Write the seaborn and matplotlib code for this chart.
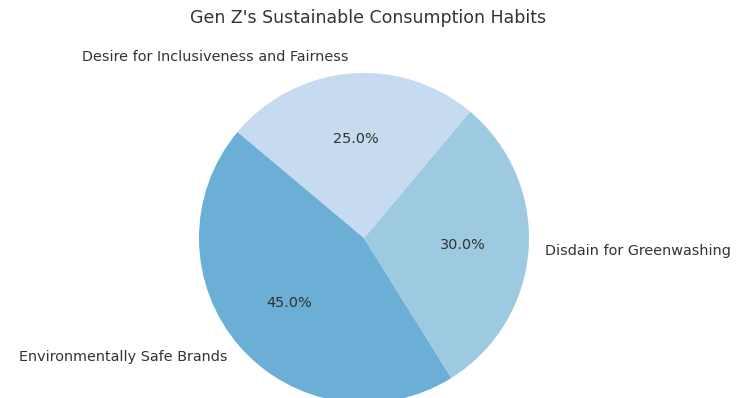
import matplotlib
matplotlib.use("Agg")
import matplotlib.pyplot as plt
import seaborn as sns

# data
labels = ['Environmentally Safe Brands', 'Disdain for Greenwashing', 'Desire for Inclusiveness and Fairness']
shares = [45, 30, 25]
colors = ['#6baed6', '#9ecae1', '#c6dbef']

sns.set_theme(style='white')
plt.rcParams['font.family'] = ['DejaVu Sans']

fig = plt.figure(figsize=(7.36, 3.98), dpi=100)
# pie centre ~ (364, 238) px, radius ~165 px
ax = fig.add_axes([199 / 736, -5 / 398, 330 / 736, 330 / 398])
ax.pie(shares, labels=labels, colors=colors, autopct='%1.1f%%', startangle=140,
       wedgeprops={'linewidth': 0},
       textprops={'fontsize': 10.4, 'color': '#333333'})
ax.set_xlim(-1, 1)
ax.set_ylim(-1, 1)
ax.set_aspect('equal')
fig.suptitle("Gen Z's Sustainable Consumption Habits", fontsize=12.5, color='#333333',
             y=1 - 18 / 398, va='center')

plt.savefig('out.png', dpi=100)
